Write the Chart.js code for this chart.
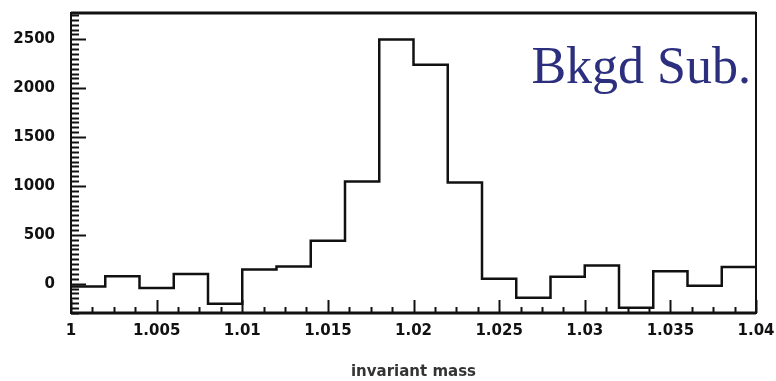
<!DOCTYPE html>
<html>
<head>
<meta charset="utf-8">
<script src="https://cdn.jsdelivr.net/npm/chart.js@4.4.0/dist/chart.umd.min.js"></script>
<style>
  html, body { margin: 0; padding: 0; background: #fff; }
</style>
</head>
<body>
<canvas id="massChart" width="776" height="381"></canvas>
<script>
// Histogram data: lower bin edges (width 0.002) and background-subtracted counts
const binEdges = [1.000, 1.002, 1.004, 1.006, 1.008, 1.010, 1.012, 1.014, 1.016, 1.018,
                  1.020, 1.022, 1.024, 1.026, 1.028, 1.030, 1.032, 1.034, 1.036, 1.038];
const binUpper = 1.040;
const counts = [-30, 75, -45, 100, -205, 145, 177, 440, 1045, 2500,
                2240, 1035, 50, -145, 70, 187, -245, 126, -20, 171];

// Axis ticks
const xTickValues = [1, 1.005, 1.01, 1.015, 1.02, 1.025, 1.03, 1.035, 1.04];
const xTickLabels = ['1', '1.005', '1.01', '1.015', '1.02', '1.025', '1.03', '1.035', '1.04'];
const xMinorStep = 0.00125;
const yTickValues = [0, 500, 1000, 1500, 2000, 2500];
const yTickLabels = ['0', '500', '1000', '1500', '2000', '2500'];
const yMinorStep = 50;

// Build step points: each bin edge carries its bin content, last point closes the final bin
const stepPoints = binEdges.map((x, i) => ({ x: x, y: counts[i] }));
stepPoints.push({ x: binUpper, y: counts[counts.length - 1] });

// Frame, inward tick marks and the "Bkgd Sub." label
const framePlugin = {
    id: 'frame',
    afterDatasetsDraw(chart) {
        const { ctx, chartArea, scales } = chart;
        const xs = scales.x, ys = scales.y;
        ctx.save();
        ctx.strokeStyle = '#111';

        // y ticks (from the left axis, pointing right)
        ctx.lineWidth = 2;
        for (let v = -300; v <= 2770; v += yMinorStep) {
            if (v < ys.min || v > ys.max) continue;
            const y = Math.round(ys.getPixelForValue(v)) + 0.5;
            const len = (v % 500 === 0) ? 15 : 8;
            ctx.beginPath();
            ctx.moveTo(chartArea.left, y);
            ctx.lineTo(chartArea.left + len, y);
            ctx.stroke();
        }

        // x ticks (from the bottom axis, pointing up)
        for (let i = 0; i * xMinorStep <= 0.04 + 1e-9; i++) {
            const v = 1 + i * xMinorStep;
            const x = Math.round(xs.getPixelForValue(v)) + 0.5;
            const len = (i % 4 === 0) ? 13 : 6;
            ctx.beginPath();
            ctx.moveTo(x, chartArea.bottom);
            ctx.lineTo(x, chartArea.bottom - len);
            ctx.stroke();
        }

        // frame
        ctx.lineWidth = 2;
        ctx.strokeRect(chartArea.left, chartArea.top, chartArea.right - chartArea.left, chartArea.bottom - chartArea.top);
        ctx.lineWidth = 3;
        ctx.beginPath();
        ctx.moveTo(chartArea.left, chartArea.top);
        ctx.lineTo(chartArea.right, chartArea.top);
        ctx.moveTo(chartArea.left, chartArea.bottom);
        ctx.lineTo(chartArea.right, chartArea.bottom);
        ctx.stroke();

        // label
        ctx.fillStyle = '#2b2f7e';
        ctx.font = '52px "Liberation Serif", "Times New Roman", serif';
        ctx.textAlign = 'right';
        ctx.textBaseline = 'alphabetic';
        ctx.fillText('Bkgd Sub.', chartArea.right - 5, 83);
        ctx.restore();
    }
};

const ctx = document.getElementById('massChart').getContext('2d');
const massChart = new Chart(ctx, {
    type: 'line',
    data: {
        datasets: [{
            label: 'Bkgd Sub.',
            data: stepPoints,
            stepped: 'before',
            borderColor: '#111',
            borderWidth: 2.5,
            pointRadius: 0,
            fill: false
        }]
    },
    options: {
        responsive: false,
        animation: false,
        layout: {
            padding: { left: 0, top: 13, right: 20, bottom: 0 }
        },
        plugins: {
            legend: { display: false },
            tooltip: { enabled: false }
        },
        scales: {
            x: {
                type: 'linear',
                min: 1,
                max: 1.04,
                grid: { display: false, drawTicks: false },
                border: { display: false },
                afterBuildTicks: scale => {
                    scale.ticks = xTickValues.map(v => ({ value: v }));
                },
                afterFit: scale => {
                    scale.height = 68;
                    scale.paddingLeft = 0;
                    scale.paddingRight = 0;
                },
                ticks: {
                    autoSkip: false,
                    maxRotation: 0,
                    padding: 9,
                    color: '#111',
                    font: { family: '"DejaVu Sans"', size: 15, weight: 'bold' },
                    callback: (value, index) => xTickLabels[index]
                },
                title: {
                    display: true,
                    text: 'invariant mass',
                    color: '#333',
                    font: { family: '"DejaVu Sans"', size: 15, weight: 'bold' },
                    padding: { top: 0, bottom: 0 }
                }
            },
            y: {
                type: 'linear',
                min: -300,
                max: 2770,
                grid: { display: false, drawTicks: false },
                border: { display: false },
                afterBuildTicks: scale => {
                    scale.ticks = yTickValues.map(v => ({ value: v }));
                },
                afterFit: scale => {
                    scale.width = 71;
                    scale.paddingTop = 0;
                    scale.paddingBottom = 0;
                },
                ticks: {
                    padding: 16,
                    color: '#111',
                    font: { family: '"DejaVu Sans"', size: 15, weight: 'bold' },
                    callback: (value, index) => yTickLabels[index]
                }
            }
        }
    },
    plugins: [framePlugin]
});
</script>
</body>
</html>
